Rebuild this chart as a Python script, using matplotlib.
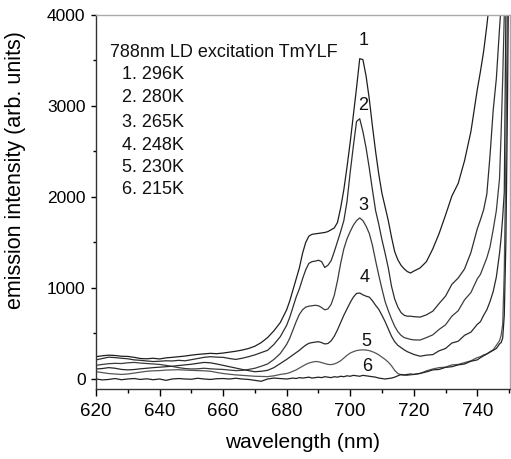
import numpy as np
import matplotlib
matplotlib.use("Agg")
import matplotlib.pyplot as plt
from matplotlib.ticker import MultipleLocator

plt.rcParams['font.family'] = ['Liberation Sans', 'DejaVu Sans']

# wavelength grid (nm)
wavelength = (list(range(620, 681, 2)) + list(range(681, 721)) + list(range(722, 741, 2))
              + [741, 742, 743, 744, 745, 746, 747, 747.5, 748, 748.5, 749, 749.5, 750])

# curve 1: 296 K
c1 = [245, 255, 262, 258, 250, 248, 238, 225, 222, 228, 220, 232, 238, 245, 252, 262,
      270, 276, 282, 278, 285, 295, 305, 318, 335, 360, 400, 455, 530, 620, 760,
      860, 980, 1100, 1220, 1380, 1500, 1570, 1590, 1595, 1600, 1605, 1610, 1620, 1640, 1660,
      1720, 1880, 2080, 2330, 2600, 2900, 3200, 3520, 3510, 3330, 3080, 2780, 2500, 2250, 2040,
      1890, 1740, 1560, 1400, 1310, 1250, 1210, 1180, 1165, 1185,
      1220, 1290, 1430, 1600, 1800, 2010, 2150, 2400, 2720, 3180,
      3380, 3600, 3880, 4200, 4600, 5000, 5500, 5600, 5800, 6000, 6000, 6000, 6000]

# curve 2: 280 K
c2 = [210, 225, 240, 235, 228, 222, 210, 205, 198, 192, 195, 200, 198, 205, 200, 212,
      225, 238, 245, 240, 238, 225, 215, 228, 245, 265, 290, 315, 380, 465, 590,
      680, 790, 900, 990, 1100, 1200, 1270, 1290, 1295, 1305, 1290, 1225, 1250, 1300, 1400,
      1510, 1620, 1740, 1950, 2270, 2560, 2830, 2860, 2720, 2540, 2320, 2080, 1850, 1700, 1530,
      1380, 1220, 1020, 880, 790, 730, 700, 690, 690, 685,
      680, 705, 745, 830, 910, 1040, 1110, 1210, 1390, 1650,
      1750, 1860, 2030, 2450, 2950, 3300, 3850, 4100, 4400, 5000, 5500, 6000, 6000]

# curve 3: 265 K
c3 = [150, 160, 168, 172, 170, 178, 182, 175, 170, 165, 160, 150, 138, 125, 115, 110,
      112, 118, 112, 108, 105, 98, 92, 95, 105, 118, 140, 165, 215, 280, 380,
      450, 540, 630, 710, 760, 790, 800, 805, 810, 805, 785, 760, 770, 820, 920,
      1080, 1270, 1430, 1540, 1620, 1690, 1740, 1770, 1740, 1680, 1600, 1470, 1300, 1140, 990,
      850, 750, 660, 580, 520, 480, 455, 445, 435, 430,
      428, 455, 485, 545, 595, 690, 750, 870, 950, 1100,
      1150, 1240, 1330, 1450, 1640, 1850, 2200, 2700, 3300, 4000, 4600, 5000, 5000]

# curve 4: 248 K
c4 = [110, 115, 125, 118, 105, 100, 104, 112, 118, 125, 130, 135, 140, 148, 155, 162,
      172, 182, 178, 165, 150, 135, 120, 105, 92, 80, 85, 95, 125, 170, 215,
      240, 265, 290, 315, 345, 372, 392, 400, 405, 410, 400, 385, 390, 420, 470,
      540, 620, 700, 770, 840, 900, 940, 945, 925, 910, 900, 860, 810, 765, 700,
      630, 550, 470, 410, 370, 345, 320, 300, 285, 270,
      250, 262, 268, 310, 335, 395, 415, 480, 515, 600,
      630, 700, 760, 850, 960, 1120, 1380, 1550, 1780, 2050, 4000, 5000, 5000]

# curve 5: 230 K
c5 = [80, 70, 60, 55, 50, 55, 65, 75, 85, 90, 92, 98, 100, 102, 98, 95,
      92, 90, 85, 72, 60, 52, 45, 40, 35, 30, 28, 26, 35, 50, 60,
      70, 85, 100, 120, 140, 160, 175, 185, 192, 190, 180, 170, 160, 158, 165,
      180, 200, 230, 260, 285, 300, 312, 318, 320, 318, 312, 300, 285, 265, 240,
      215, 185, 145, 95, 60, 45, 42, 40, 45, 50,
      60, 90, 110, 125, 130, 155, 160, 180, 200, 235,
      245, 265, 275, 300, 320, 370, 420, 480, 600, 1200, 2500, 4200, 5000]

# curve 6: 215 K
c6 = [0, -10, -5, 5, -8, 0, 5, -5, 2, -8, 0, -15, 0, 5, 0, -3,
      8, 0, -5, 3, 5, 0, 8, 0, -5, -15, -25, 0, 10, 5, 0,
      5, 10, 5, 15, 10, 15, 20, 10, 15, 20, 15, 25, 20, 15, 25,
      20, 30, 25, 35, 30, 40, 35, 30, 40, 35, 30, 25, 20, 10, 5,
      0, 5, 10, 20, 35, 50, 45, 50, 55, 50,
      62, 78, 100, 105, 128, 135, 155, 165, 195, 210,
      235, 255, 275, 295, 315, 335, 385, 400, 450, 700, 1500, 3000, 5000]

curves = [c1, c2, c3, c4, c5, c6]
colors = ['#1e1e1e', '#2e2e2e', '#3c3c3c', '#2a2a2a', '#555555', '#222222']
curve_labels = ['1', '2', '3', '4', '5', '6']
label_x = [704.1, 704.0, 704.0, 704.7, 705.0, 705.3]
label_y = [3725, 3000, 1912, 1110, 407, 132]

legend_title = '788nm LD excitation TmYLF'
legend_lines = ['1. 296K', '2. 280K', '3. 265K', '4. 248K', '5. 230K', '6. 215K']

fig = plt.figure(figsize=(5.11, 4.59), dpi=100)
ax = fig.add_axes([96/511, 1 - 389/459, (510 - 96)/511, (389 - 15)/459])

for y, col in zip(curves, colors):
    ax.plot(wavelength, y, color=col, lw=0.9)

for t, x, y in zip(curve_labels, label_x, label_y):
    ax.text(x, y, t, fontsize=13, ha='center', va='center', color='#111111')

ax.text(624.4, 3593, legend_title, fontsize=13, ha='left', va='center', color='#111111')
ly = [3341, 3088, 2824, 2571, 2319, 2077]
for t, y in zip(legend_lines, ly):
    ax.text(628.3, y, t, fontsize=13, ha='left', va='center', color='#111111')

ax.set_xlim(620, 750.3)
ax.set_ylim(-110, 4000)
ax.xaxis.set_major_locator(MultipleLocator(20))
ax.xaxis.set_minor_locator(MultipleLocator(10))
ax.yaxis.set_major_locator(MultipleLocator(1000))
ax.yaxis.set_minor_locator(MultipleLocator(500))

ax.tick_params(axis='x', which='major', direction='out', length=5, width=1, pad=5, labelsize=13.5)
ax.tick_params(axis='x', which='minor', direction='out', length=3, width=1)
ax.tick_params(axis='y', which='major', direction='out', length=3.5, width=1, pad=4, labelsize=12.5)
ax.tick_params(axis='y', which='minor', direction='out', length=2, width=1)
ax.tick_params(top=False, right=False, which='both')

for s in ['left', 'bottom']:
    ax.spines[s].set_color('#333333')
    ax.spines[s].set_linewidth(1.0)
for s in ['top', 'right']:
    ax.spines[s].set_color('#aaaaaa')
    ax.spines[s].set_linewidth(1.0)

ax.set_xlabel('wavelength (nm)', fontsize=15)
ax.set_ylabel('emission intensity (arb. units)', fontsize=15.5)
ax.xaxis.set_label_coords(0.5, (389 - 433) / 374)
ax.yaxis.set_label_coords((26 - 96) / 414, (379 - 165 - 15 + 15) / 374 * 0 + (389 - 170) / 374)

fig.savefig('out.png', dpi=100)
